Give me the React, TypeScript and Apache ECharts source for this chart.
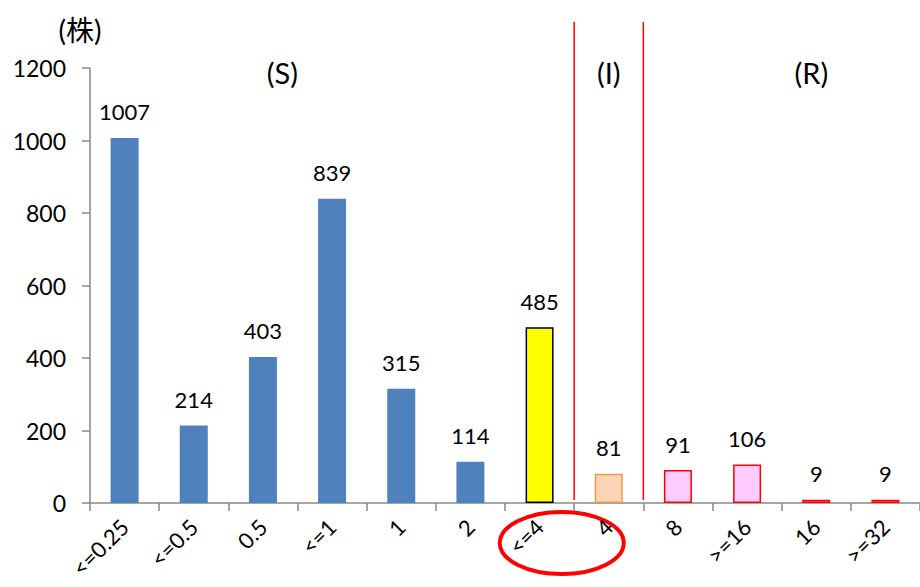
import React, { useEffect, useRef } from "react";
import * as echarts from "echarts";

// MIC breakdown (株数 per MIC value)
const categories = ["<=0.25", "<=0.5", "0.5", "<=1", "1", "2", "<=4", "4", "8", ">=16", "16", ">=32"];
const counts = [1007, 214, 403, 839, 315, 114, 485, 81, 91, 106, 9, 9];
// S / I / R grouping of each category
const groups = ["S", "S", "S", "S", "S", "S", "S*", "I", "R", "R", "R", "R"];
const yTicks = { min: 0, max: 1200, interval: 200 };

const FONT = "Lato, 'Noto Sans CJK JP', sans-serif";

const styleFor = (g: string) => {
  if (g === "S*") return { color: "#FFFF00", borderColor: "#000000", borderWidth: 1.5 };
  if (g === "I") return { color: "#FBD5B5", borderColor: "#F79646", borderWidth: 1.5 };
  if (g === "R") return { color: "#FFCCFF", borderColor: "#FF0000", borderWidth: 1.5 };
  return { color: "#4F81BD", borderWidth: 0 };
};

export default function App() {
  const ref = useRef<HTMLDivElement>(null);

  useEffect(() => {
    if (!ref.current) return;
    const chart = echarts.init(ref.current, undefined, { renderer: "svg" });
    chart.setOption({
      animation: false,
      textStyle: { fontFamily: FONT },
      grid: { left: 90, right: -5, top: 68, bottom: 84, containLabel: false },
      xAxis: {
        type: "category",
        data: categories,
        axisLine: { lineStyle: { color: "#888888", width: 1.5 } },
        axisTick: { show: true, length: 8, alignWithLabel: false, lineStyle: { color: "#888888", width: 1.5 } },
        axisLabel: { rotate: 45, fontSize: 22, color: "#000", margin: 20, interval: 0, fontFamily: FONT },
        splitLine: { show: false },
      },
      yAxis: {
        type: "value",
        min: yTicks.min,
        max: yTicks.max,
        interval: yTicks.interval,
        axisLine: { show: true, lineStyle: { color: "#888888", width: 1.5 } },
        axisTick: { show: true, length: 8, lineStyle: { color: "#888888", width: 1.5 } },
        axisLabel: {
          fontSize: 23,
          color: "#000",
          margin: 24,
          fontFamily: FONT,
          formatter: (v: number) => String(v),
        },
        splitLine: { show: false },
      },
      series: [
        {
          type: "bar",
          barWidth: 28,
          data: counts.map((v, i) => ({ value: v, itemStyle: styleFor(groups[i]) })),
          label: { show: true, position: "top", distance: 15, fontSize: 22, color: "#000", fontFamily: FONT },
        },
      ],
    });

    // Overlay: S/I/R dividers, group titles, unit and highlight ring
    const c0 = chart.convertToPixel({ xAxisIndex: 0 }, categories[0]) as number;
    const c1 = chart.convertToPixel({ xAxisIndex: 0 }, categories[1]) as number;
    const w = c1 - c0;
    const px = (v: number) => c0 + (v - 0.5) * w;
    const py = (v: number) => chart.convertToPixel({ yAxisIndex: 0 }, v) as number;

    const divider = (v: number) => ({
      type: "line",
      shape: { x1: px(v), y1: py(1327), x2: px(v), y2: py(8) },
      style: { stroke: "#FF0000", lineWidth: 1.5 },
    });
    const title = (text: string, v: number) => ({
      type: "text",
      x: px(v),
      y: py(1187),
      style: { text, fill: "#000", font: `29px ${FONT}`, textAlign: "center", textVerticalAlign: "middle" },
    });

    chart.setOption({
      graphic: [
        divider(7),
        divider(8),
        title("(S)", 2.78),
        title("(I)", 7.5),
        title("(R)", 10.43),
        {
          type: "text",
          x: 80,
          y: 30,
          style: { text: "(株)", fill: "#000", font: `28px ${FONT}`, textAlign: "center", textVerticalAlign: "middle" },
        },
        {
          type: "ellipse",
          shape: { cx: px(6.82), cy: py(0) + 40, rx: 62, ry: 31 },
          style: { fill: "none", stroke: "#FF0000", lineWidth: 4 },
        },
      ],
    });

    return () => chart.dispose();
  }, []);

  return <div ref={ref} style={{ width: 920, height: 587, position: "absolute", left: 0, top: 0 }} />;
}
